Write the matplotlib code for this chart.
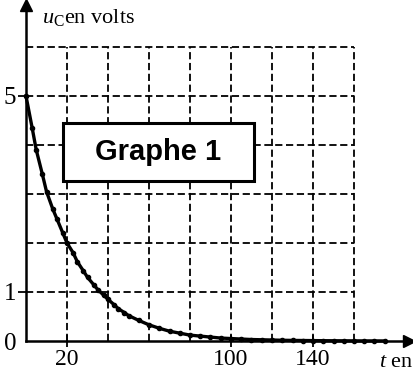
import matplotlib
matplotlib.use("Agg")
import matplotlib.pyplot as plt
from matplotlib.patches import Rectangle

# Data
t_vals = [0, 3, 5, 8, 10, 13, 15, 18, 20, 23, 25, 28, 30, 33, 35, 38, 40, 43, 45, 48, 50,
          55, 60, 65, 70, 75, 80, 85, 90, 95, 100, 105, 110, 115, 120, 125, 130, 135, 140,
          145, 150, 155, 160, 165, 170, 175]
u_vals = [5.0, 4.35, 3.9, 3.4, 3.05, 2.7, 2.5, 2.2, 2.0, 1.8, 1.62, 1.43, 1.3, 1.15, 1.05,
          0.93, 0.85, 0.74, 0.66, 0.58, 0.52, 0.42, 0.33, 0.26, 0.2, 0.16, 0.12, 0.1, 0.08,
          0.06, 0.05, 0.04, 0.03, 0.025, 0.02, 0.015, 0.012, 0.01, 0.008, 0.006, 0.005,
          0.004, 0.003, 0.002, 0.002, 0.001]

x_ticks = [20, 100, 140]
x_tick_labels = ["20", "100", "140"]
y_ticks = [0, 1, 5]
y_tick_labels = ["0", "1", "5"]
grid_t = [20, 40, 60, 80, 100, 120, 140, 160]
grid_u = [1, 2, 3, 4, 5, 6]
title_box_text = "Graphe 1"
y_label = r"$\mathit{u}_{\mathrm{C}}$en volts"
x_label = r"$\mathit{t}$ en"

plt.rcParams["mathtext.fontset"] = "custom"
plt.rcParams["mathtext.rm"] = "Liberation Serif"
plt.rcParams["mathtext.it"] = "Liberation Serif:italic"

W, H = 413, 379
fig = plt.figure(figsize=(W / 100, H / 100), dpi=100)
fig.patch.set_facecolor("white")
ax = fig.add_axes([0, 0, 1, 1])
ax.set_facecolor("white")

px_per_t = 2.05
px_per_u = 49.0
x0_px = 26
y0_px = H - 341
xmin = -x0_px / px_per_t
ymin = -y0_px / px_per_u
ax.set_xlim(xmin, xmin + W / px_per_t)
ax.set_ylim(ymin, ymin + H / px_per_u)

tmax = max(grid_t)
umax = max(grid_u)

# dashed grid
ax.hlines(grid_u, 0, tmax, colors="black", linestyles=(0, (4, 2)), linewidth=1.3, zorder=1)
ax.vlines(grid_t, 0, umax, colors="black", linestyles=(0, (4, 2)), linewidth=1.3, zorder=1)

# axes spines
for s in ["top", "right"]:
    ax.spines[s].set_visible(False)
ax.spines["left"].set_position(("data", 0))
ax.spines["bottom"].set_position(("data", 0))
ax.spines["left"].set_bounds(0, 6.75)
ax.spines["bottom"].set_bounds(0, 185)
ax.spines["left"].set_linewidth(1.8)
ax.spines["bottom"].set_linewidth(1.8)
ax.plot([0], [6.85], marker="^", color="black", markersize=9, clip_on=False, zorder=5)
ax.plot([187], [0], marker=">", color="black", markersize=9, clip_on=False, zorder=5)

ax.set_xticks(x_ticks)
ax.set_xticklabels(x_tick_labels, fontfamily="Liberation Serif", fontsize=17)
ax.set_yticks(y_ticks)
ax.set_yticklabels(y_tick_labels, fontfamily="Liberation Serif", fontsize=18)
ax.tick_params(axis="x", direction="inout", length=9, width=1.3, pad=1)
ax.tick_params(axis="y", direction="out", length=6, width=1.3, pad=1)
ax.yaxis.get_major_ticks()[0].tick1line.set_visible(False)

# curve
ax.plot(t_vals, u_vals, color="black", linewidth=2.4, marker="o", markersize=3.0,
        zorder=4, clip_on=False)

# labels
ax.text(8, 6.6, y_label, fontsize=16, ha="left", va="center", color="black",
        fontfamily="Liberation Serif")
ax.text(172, -0.44, x_label, fontsize=16, ha="left", va="center", color="black",
        fontfamily="Liberation Serif")

# "Graphe 1" box
bx0, by0 = 63 / W, 1 - 181 / H
bw, bh = (254 - 63) / W, (181 - 123) / H
fig.patches.append(Rectangle((bx0, by0), bw, bh, transform=fig.transFigure,
                             facecolor="white", edgecolor="black", linewidth=2.2, zorder=10))
fig.text(bx0 + bw / 2, by0 + bh / 2, title_box_text, fontfamily="Liberation Sans",
         fontweight="bold", fontsize=21, ha="center", va="center", zorder=11)

fig.savefig("out.png", dpi=100, facecolor="white")
